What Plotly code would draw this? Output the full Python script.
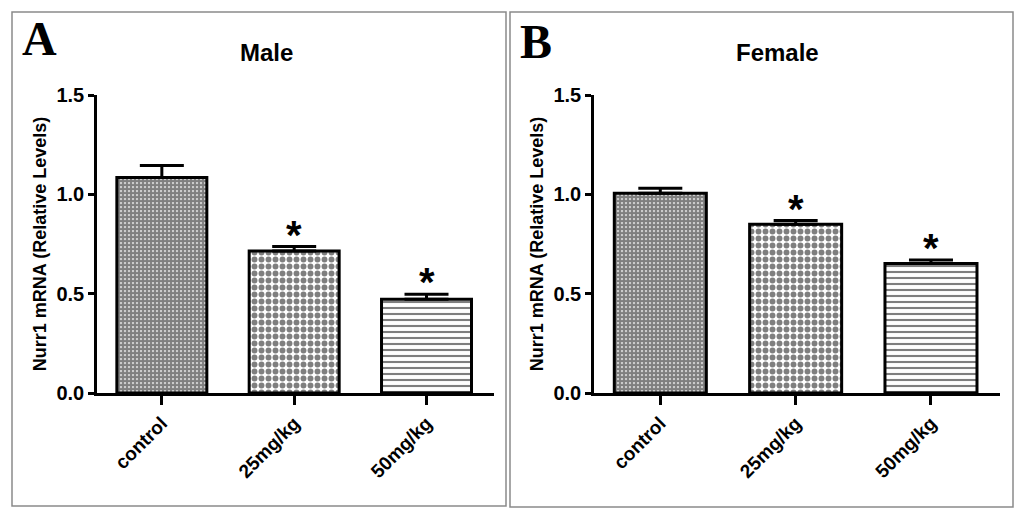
import plotly.graph_objects as go

categories = ["control", "25mg/kg", "50mg/kg"]
male_values = [1.085, 0.715, 0.472]
male_errors = [0.06, 0.022, 0.025]
female_values = [1.005, 0.85, 0.652]
female_errors = [0.025, 0.018, 0.018]
significant = [False, True, True]
y_tickvals = [0.0, 0.5, 1.0, 1.5]
y_title = "Nurr1 mRNA (Relative Levels)"
panel_titles = ["Male", "Female"]
panel_letters = ["A", "B"]

W, H = 1024, 519
patterns = [
    dict(shape=".", size=4, solidity=0.8, fgcolor="black", bgcolor="white"),
    dict(shape=".", size=7, solidity=0.55, fgcolor="black", bgcolor="white"),
    dict(shape="-", size=6, solidity=0.35, fgcolor="black", bgcolor="white"),
]

fig = go.Figure()

panels = [
    dict(values=male_values, errors=male_errors, xaxis="x", yaxis="y",
         xdom=[97 / W, 494 / W]),
    dict(values=female_values, errors=female_errors, xaxis="x2", yaxis="y2",
         xdom=[594 / W, 1000 / W]),
]
ydom = [(H - 393) / H, (H - 95) / H]

for p in panels:
    for i, cat in enumerate(categories):
        fig.add_trace(go.Bar(
            x=[cat], y=[p["values"][i]],
            xaxis=p["xaxis"], yaxis=p["yaxis"],
            width=0.68,
            marker=dict(color="white", pattern=patterns[i],
                        line=dict(color="black", width=3)),
            error_y=dict(type="data", array=[p["errors"][i]], arrayminus=[0],
                         symmetric=False, color="black", thickness=3, width=22),
            showlegend=False,
        ))
    for i, cat in enumerate(categories):
        if significant[i]:
            fig.add_annotation(
                x=cat, y=p["values"][i] + p["errors"][i],
                xref=p["xaxis"], yref=p["yaxis"],
                text="*", showarrow=False, yanchor="middle", yshift=12,
                font=dict(family="Liberation Sans", size=40, color="black", weight="bold"),
            )

axis_common = dict(
    showline=True, linecolor="black", linewidth=2.5, mirror=False,
    ticks="outside", tickcolor="black", tickwidth=2.5,
    showgrid=False, zeroline=False, automargin=False,
)
xcommon = dict(axis_common, ticklen=9, tickangle=-45, range=[-0.49, 2.51],
               tickfont=dict(family="Liberation Sans", size=19, color="black", weight="bold"),
               categoryorder="array", categoryarray=categories)
ycommon = dict(axis_common, ticklen=6, range=[0, 1.5], tickvals=y_tickvals,
               tickformat=".1f",
               tickfont=dict(family="Liberation Sans", size=20, color="black", weight="bold"),
               title=dict(text=y_title, standoff=6,
                          font=dict(family="Liberation Sans", size=18, color="black", weight="bold")))

fig.update_layout(
    width=W, height=H, autosize=False,
    margin=dict(l=0, r=0, t=0, b=0, pad=0),
    paper_bgcolor="white", plot_bgcolor="white",
    xaxis=dict(xcommon, domain=panels[0]["xdom"], anchor="y"),
    yaxis=dict(ycommon, domain=ydom, anchor="x"),
    xaxis2=dict(xcommon, domain=panels[1]["xdom"], anchor="y2"),
    yaxis2=dict(ycommon, domain=ydom, anchor="x2"),
    bargap=0.3,
)

# panel frames
frames = [(12, 12, 506, 506), (510, 12, 1013, 507)]
for (x0, y0, x1, y1) in frames:
    fig.add_shape(type="rect", xref="paper", yref="paper",
                  x0=x0 / W, x1=x1 / W, y0=1 - y1 / H, y1=1 - y0 / H,
                  line=dict(color="#8a8a8a", width=1.5), fillcolor="rgba(0,0,0,0)")

# panel letters and titles
letter_pos = [(39, 38), (536, 42)]
title_pos = [(266, 52), (777, 52)]
for k in range(2):
    fig.add_annotation(x=letter_pos[k][0] / W, y=1 - letter_pos[k][1] / H,
                       xref="paper", yref="paper", text=panel_letters[k], showarrow=False,
                       xanchor="center", yanchor="middle",
                       font=dict(family="Liberation Serif", size=48, color="black", weight="bold"))
    fig.add_annotation(x=title_pos[k][0] / W, y=1 - title_pos[k][1] / H,
                       xref="paper", yref="paper", text=panel_titles[k], showarrow=False,
                       xanchor="center", yanchor="middle",
                       font=dict(family="Liberation Sans", size=24, color="black", weight="bold"))

fig.write_html("out.html", config={"displayModeBar": False},
               post_script="document.body.style.margin='0';document.body.style.overflow='hidden';")
